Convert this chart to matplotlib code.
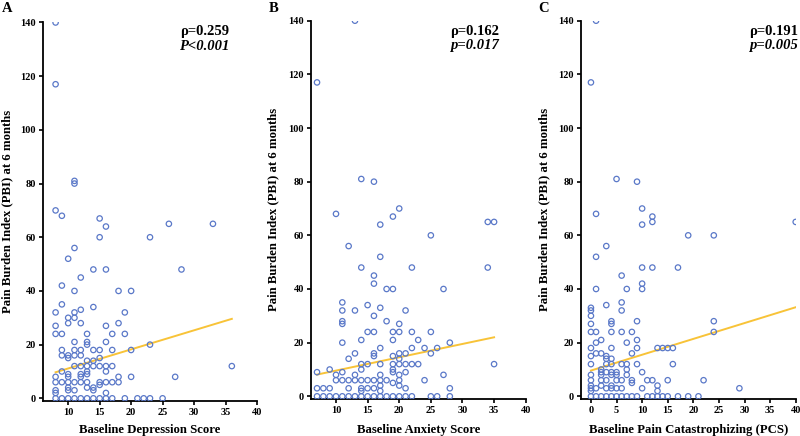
import matplotlib
matplotlib.use("Agg")
import matplotlib.pyplot as plt

plt.rcParams['font.family'] = ['Liberation Serif', 'DejaVu Serif']
plt.rcParams['font.weight'] = 'bold'

# ---------------- Panel A: depression ----------------
dep_score = [8, 8, 11, 11, 8, 9, 15, 26, 33, 16, 15, 23, 11, 10,
             14, 16, 28, 12, 9, 11, 18, 20, 9, 14, 12,
             8, 11, 19, 10, 11, 10, 12, 18, 8, 16,
             8, 9, 13, 17, 19, 11, 13, 16, 13, 23,
             9, 11, 12, 14, 15, 17, 20, 9, 10, 11, 12,
             10, 15, 13, 14, 11, 12, 13, 14, 15, 16, 17, 36,
             9, 13, 16, 10, 12, 13, 8, 10, 12, 18, 20, 27,
             8, 9, 10, 11, 12, 13, 15, 16, 17, 18, 15,
             10, 13, 14, 8, 10, 11, 14, 8, 16,
             8, 9, 10, 11, 12, 13, 14, 15, 16, 17, 19, 21, 22, 23, 25]
dep_pbi = [140, 117, 81, 80, 70, 68, 67, 65, 65, 64, 60, 60, 56, 52,
           48, 48, 48, 45, 42, 40, 40, 40, 35, 34, 33,
           32, 32, 32, 30, 30, 28, 28, 28, 27, 27,
           24, 24, 24, 24, 24, 21, 21, 21, 20, 20,
           18, 18, 18, 18, 18, 18, 18, 16, 16, 16, 16,
           15, 15, 14, 14, 12, 12, 12, 12, 12, 12, 12, 12,
           10, 10, 10, 9, 9, 9, 8, 8, 8, 8, 8, 8,
           6, 6, 6, 6, 6, 6, 6, 6, 6, 6, 5,
           4, 4, 4, 3, 3, 3, 3, 2, 2,
           0, 0, 0, 0, 0, 0, 0, 0, 0, 0, 0, 0, 0, 0, 0]
dep_fit_x = [8, 36]
dep_fit_y = [9.7, 29.6]

# ---------------- Panel B: anxiety ----------------
anx_score = [13, 7, 14, 16, 20, 10, 19, 34, 35, 17, 25, 12, 17,
             14, 22, 34, 16, 16, 18, 19, 27, 11, 15, 17,
             11, 13, 21, 16, 11, 18, 11, 20,
             15, 16, 19, 20, 22, 25, 14, 19, 23, 11, 28,
             17, 22, 24, 26, 13, 16, 20, 21, 25, 16, 19, 12, 20,
             14, 15, 17, 19, 20, 21, 22, 23, 35,
             9, 14, 19, 7, 11, 19, 21, 10, 13, 17, 20, 27,
             10, 11, 12, 13, 14, 15, 16, 17, 18, 20, 24, 19, 17, 20,
             7, 8, 9, 12, 14, 15, 16, 21, 28, 14, 17,
             7, 8, 9, 10, 11, 12, 13, 14, 15, 16, 17, 18, 19, 20, 21, 22, 25, 26, 28]
anx_pbi = [140, 117, 81, 80, 70, 68, 67, 65, 65, 64, 60, 56, 52,
           48, 48, 48, 45, 42, 40, 40, 40, 35, 34, 33,
           32, 32, 32, 30, 28, 28, 27, 27,
           24, 24, 24, 24, 24, 24, 21, 21, 21, 20, 20,
           18, 18, 18, 18, 16, 16, 16, 16, 16, 15, 15, 14, 14,
           12, 12, 12, 12, 12, 12, 12, 12, 12,
           10, 10, 10, 9, 9, 9, 9, 8, 8, 8, 8, 8,
           6, 6, 6, 6, 6, 6, 6, 6, 6, 6, 6, 5, 4, 4,
           3, 3, 3, 3, 3, 3, 3, 3, 3, 2, 2,
           0, 0, 0, 0, 0, 0, 0, 0, 0, 0, 0, 0, 0, 0, 0, 0, 0, 0, 0]
anx_fit_x = [7, 35]
anx_fit_y = [8.1, 22.0]

# ---------------- Panel C: catastrophizing ----------------
pcs_score = [1, 0, 5, 9, 10, 1, 12, 12, 40, 10, 19, 24, 3, 1,
             10, 12, 17, 6, 10, 1, 7, 10, 6, 3, 0, 0, 6, 0,
             4, 9, 24, 0, 4, 0, 1, 4, 6, 8, 24, 2, 9, 1, 7,
             0, 4, 9, 13, 14, 15, 16, 1, 2, 8, 0, 3, 3, 4,
             0, 3, 4, 6, 7, 9, 16, 2, 7, 2, 3, 4, 5, 10,
             0, 2, 4, 5, 7,
             0, 2, 3, 5, 6, 8, 11, 12, 15, 22, 8,
             0, 2, 4, 13, 0, 1, 3, 4, 5, 6, 10, 29, 0, 13,
             0, 1, 2, 3, 4, 5, 6, 7, 8, 9, 11, 12, 13, 14, 15, 17, 19, 21]
pcs_pbi = [140, 117, 81, 80, 70, 68, 67, 65, 65, 64, 60, 60, 56, 52,
           48, 48, 48, 45, 42, 40, 40, 40, 35, 34, 33, 32, 32, 30,
           28, 28, 28, 27, 27, 24, 24, 24, 24, 24, 24, 21, 21, 20, 20,
           18, 18, 18, 18, 18, 18, 18, 16, 16, 16, 15, 15, 14, 14,
           12, 12, 12, 12, 12, 12, 12, 10, 10, 9, 9, 9, 9, 9,
           8, 8, 8, 8, 8,
           6, 6, 6, 6, 6, 6, 6, 6, 6, 6, 5,
           4, 4, 4, 4, 3, 3, 3, 3, 3, 3, 3, 3, 2, 2,
           0, 0, 0, 0, 0, 0, 0, 0, 0, 0, 0, 0, 0, 0, 0, 0, 0, 0]
pcs_fit_x = [0, 40]
pcs_fit_y = [9.6, 33.2]

panel_letters = ['A', 'B', 'C']
x_labels = ['Baseline Depression Score', 'Baseline Anxiety Score',
            'Baseline Pain Catastrophizing (PCS)']
y_label = 'Pain Burden Index (PBI) at 6 months'
rho_texts = ['\u03c1=0.259', '\u03c1=0.162', '\u03c1=0.191']
p_texts = ['P<0.001', 'p=0.017', 'p=0.005']
x_ticks = [[10, 15, 20, 25, 30, 35, 40],
           [10, 15, 20, 25, 30, 35, 40],
           [0, 5, 10, 15, 20, 25, 30, 35, 40]]
x_limits = [(6, 40), (6, 40), (-2, 40)]
y_ticks = [0, 20, 40, 60, 80, 100, 120, 140]

xs_all = [dep_score, anx_score, pcs_score]
ys_all = [dep_pbi, anx_pbi, pcs_pbi]
fx_all = [dep_fit_x, anx_fit_x, pcs_fit_x]
fy_all = [dep_fit_y, anx_fit_y, pcs_fit_y]

W, H = 800, 436
fig = plt.figure(figsize=(W / 100, H / 100), dpi=100)

# pixel boxes: left, right, top, bottom
boxes = [(43, 257, 22.5, 401), (310.7, 525.7, 20.7, 399), (580.7, 795.7, 20.7, 399)]
ylabel_x = [7, 273, 544]
letter_x = [2, 269, 538]
text_right = [229, 499, 798]

marker_color = '#5a78c8'
line_color = '#f8c338'

for i in range(3):
    l, r, t, b = boxes[i]
    ax = fig.add_axes([l / W, 1 - b / H, (r - l) / W, (b - t) / H])
    ax.scatter(xs_all[i], ys_all[i], s=15, facecolors='none',
               edgecolors=marker_color, linewidths=0.9, zorder=3)
    ax.plot(fx_all[i], fy_all[i], color=line_color, lw=1.4, zorder=2)
    ax.set_xlim(*x_limits[i])
    ax.set_ylim(-1, 140)
    ax.set_xticks(x_ticks[i])
    ax.set_yticks(y_ticks)
    for s in ['top', 'right']:
        ax.spines[s].set_visible(False)
    for s in ['left', 'bottom']:
        ax.spines[s].set_linewidth(1.3)
        ax.spines[s].set_color('black')
    ax.tick_params(direction='out', length=3, width=1.2, labelsize=7.5, pad=2)
    for lab in ax.get_xticklabels() + ax.get_yticklabels():
        lab.set_fontweight('bold')
    ax.set_xlabel(x_labels[i], fontsize=9.2, fontweight='bold')
    ax.xaxis.label.set_va('center')
    ax.xaxis.set_label_coords(0.5, -(430 - b) / (b - t) * -1 * -1)
    ax.xaxis.set_label_coords(0.5, -(430 - b) / (b - t))
    ax.set_ylabel(y_label, fontsize=9.2, fontweight='bold')
    ax.yaxis.label.set_va('center')
    ax.yaxis.set_label_coords(-(l - ylabel_x[i]) / (r - l), 0.5)
    fig.text(letter_x[i] / W, 1 - 8 / H, panel_letters[i], fontsize=10.5,
             fontweight='bold', ha='left', va='center')
    fig.text(text_right[i] / W, 1 - 32 / H, rho_texts[i], fontsize=10.5,
             fontweight='bold', ha='right', va='center')
    fig.text(text_right[i] / W, 1 - 46 / H, p_texts[i], fontsize=10.5,
             fontweight='bold', style='italic', ha='right', va='center')

fig.savefig('out.png', dpi=100)
